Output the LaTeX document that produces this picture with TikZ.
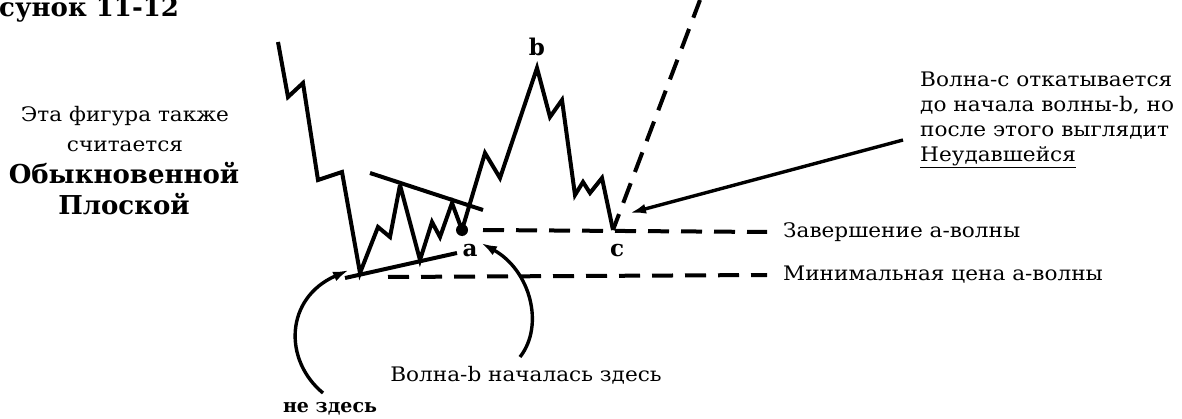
\documentclass[tikz,border=0pt]{standalone}
\usepackage{fontspec}
\setmainfont{DejaVu Serif}
\newfontfamily\notefont[FakeStretch=1.08]{DejaVu Serif}
\usetikzlibrary{arrows.meta,positioning}
\tikzset{
 wave/.style={line width=4pt,line join=miter,miter limit=4},
 level/.style={line width=4pt,dash pattern=on 21pt off 12pt},
 arrow/.style={-{Latex[length=16pt,width=10pt]},line width=3.4pt},
 note/.style={font=\notefont\fontsize{20}{25}\selectfont,inner sep=0pt},
 bignote/.style={font=\fontsize{26}{30}\selectfont\bfseries,inner sep=0pt},
 wavename/.style={font=\fontsize{23}{26}\selectfont\bfseries,inner sep=0pt}
}

\begin{document}
\begin{tikzpicture}[x=1pt,y=-1pt]
\useasboundingbox (0,0) rectangle (1182,419);
% title, cut off at the top edge
\node[bignote,anchor=base west] (title) at (-1,17) {сунок 11-12};
% left caption
\node[note] (capt1) at (125,116) {Эта фигура также};
\node[note] (capt2) at (125,146) {считается};
\node[bignote] (capt3) at (124,173) {Обыкновенной};
\node[bignote] (capt4) at (124,204) {Плоской};

% the wave
\coordinate (pa) at (462,230);
\coordinate (pb) at (537,68);
\coordinate (pc) at (613,230);
\coordinate (top) at (700,0);
\draw[wave] (278,42) -- (288,97) -- (303,83) -- (318,180) -- (342,172)
  -- (360,273) -- (378,227) -- (390,237) -- (400,185) -- (420,260)
  -- (432,222) -- (440,237) -- (452,203) -- (pa) -- (485,153) -- (500,178)
  -- (pb) -- (550,117) -- (562,100) -- (575,195) -- (583,182) -- (590,193)
  -- (602,178) -- (pc);
\draw[level,dash phase=4pt] (pc) -- (top);
\fill (pa) circle (6);
% triangle borders
\draw[wave] (370,173) -- (483,210);
\draw[wave] (345,278) -- (457,253);

\node[wavename] (na) at (470,251) {a};
\node[wavename] (nb) at (537,47) {b};
\node[wavename] (nc) at (617,251) {c};

% levels
\node[note,anchor=west] (end) at (783,232) {Завершение а-волны};
\node[note,anchor=west] (low) at (783,275) {Минимальная цена а-волны};
\draw[level] (483,230) -- ([xshift=-16pt]end.west);
\draw[level] (388,277) -- ([xshift=-16pt]low.west);

% notes with arrows
\node[note,align=left,anchor=north west] (fail) at (920,72)
  {Волна-с откатывается\\до начала волны-b, но\\после этого выглядит\\\underline{Неудавшейся}};
\coordinate (failstart) at (903,140);
\draw[arrow] (failstart) -- (630,213);

\node[note] (here) at (526,375) {Волна-b началась здесь};
\node[note,font=\fontsize{19}{24}\selectfont\bfseries] (nothere) at (330,409) {не здесь};
\draw[arrow] (520,357) .. controls (545,325) and (530,270) .. (481,243);
\draw[arrow] (323,393) .. controls (283,360) and (285,298) .. (349,270);
\end{tikzpicture}
\end{document}
